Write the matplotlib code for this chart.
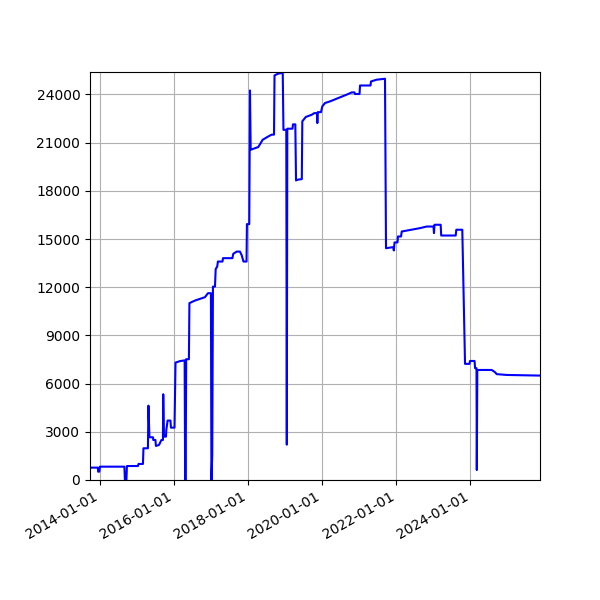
import matplotlib
matplotlib.use("Agg")
import matplotlib.pyplot as plt
import matplotlib.dates as mdates
import pandas as pd
from matplotlib.ticker import MultipleLocator

# points (date, value)
dates = [
    "2013-09-25", "2013-12-12", "2013-12-14", "2013-12-26", "2014-01-01",
    "2014-08-30", "2014-09-04", "2014-09-19", "2014-09-24", "2015-01-11",
    "2015-01-16", "2015-03-01", "2015-03-06", "2015-04-19", "2015-04-24",
    "2015-05-04", "2015-06-08", "2015-06-11", "2015-07-02", "2015-07-07",
    "2015-08-06", "2015-08-30", "2015-09-14", "2015-09-17", "2015-09-24",
    "2015-10-14", "2015-10-17", "2015-10-30", "2015-11-27", "2015-12-02",
    "2016-01-06", "2016-01-16", "2016-02-29", "2016-04-15", "2016-04-20",
    "2016-04-25", "2016-04-30", "2016-05-27", "2016-06-01", "2016-07-25",
    "2016-11-01", "2016-12-01", "2016-12-30", "2017-01-04", "2017-01-12",
    "2017-01-19", "2017-02-08", "2017-02-15", "2017-03-02", "2017-03-09",
    "2017-04-23", "2017-04-28", "2017-07-30", "2017-08-07", "2017-09-10",
    "2017-10-12", "2017-10-29", "2017-11-16", "2017-12-16", "2017-12-20",
    "2018-01-12", "2018-01-19", "2018-01-26", "2018-04-11", "2018-05-24",
    "2018-07-19", "2018-08-21", "2018-09-13", "2018-09-18", "2018-10-25",
    "2018-12-08", "2018-12-15", "2019-01-12", "2019-01-17", "2019-01-22",
    "2019-03-14", "2019-03-19", "2019-04-11", "2019-04-18", "2019-05-07",
    "2019-06-14", "2019-06-19", "2019-07-23", "2019-09-20", "2019-10-15",
    "2019-11-11", "2019-11-14", "2019-11-18", "2019-12-20", "2020-01-02",
    "2020-01-29", "2020-03-18", "2020-06-08", "2020-08-29", "2020-10-18",
    "2020-11-14", "2020-11-19", "2021-01-03", "2021-01-08", "2021-04-21",
    "2021-04-26", "2021-06-20", "2021-09-11", "2021-09-21", "2021-12-02",
    "2021-12-07", "2021-12-14", "2022-01-12", "2022-01-17", "2022-02-16",
    "2022-02-23", "2022-08-22", "2022-10-27", "2023-01-02", "2023-01-07",
    "2023-01-12", "2023-03-14", "2023-03-19", "2023-08-09", "2023-08-15",
    "2023-10-13", "2023-11-09", "2023-12-23", "2023-12-28", "2024-02-11",
    "2024-02-16", "2024-03-01", "2024-03-04", "2024-03-09", "2024-07-29",
    "2024-08-31", "2024-09-16", "2024-12-24", "2025-11-17",
]
values = [
    770, 770, 520, 520, 830,
    830, 0, 0, 870, 870,
    1000, 1000, 1975, 1975, 4630,
    2660, 2660, 2490, 2490, 2120,
    2180, 2490, 2490, 5340, 2700,
    2700, 3100, 3700, 3700, 3260,
    3260, 7310, 7400, 7450, 0,
    0, 7520, 7520, 11010, 11170,
    11380, 11630, 11630, 0, 1550,
    12040, 12040, 13130, 13290, 13600,
    13600, 13810, 13810, 14080, 14220,
    14220, 14000, 13600, 13600, 15930,
    15930, 24250, 20560, 20730, 21180,
    21390, 21500, 21500, 25190, 25300,
    25340, 21800, 21800, 2200, 21870,
    21870, 22140, 22140, 18650, 18700,
    18730, 22330, 22600, 22740, 22840,
    22840, 22220, 22900, 22900, 23260,
    23470, 23570, 23780, 23990, 24130,
    24130, 24030, 24030, 24560, 24560,
    24810, 24920, 24980, 14430, 14500,
    14290, 14790, 14790, 15160, 15160,
    15470, 15680, 15780, 15780, 15370,
    15890, 15890, 15220, 15220, 15580,
    15580, 7230, 7230, 7410, 7410,
    6960, 6960, 620, 6850, 6850,
    6710, 6590, 6540, 6500,
]

x = pd.to_datetime(dates)

fig, ax = plt.subplots(figsize=(6, 6), dpi=100)
ax.plot(x, values, color="blue", linewidth=1.5)

ax.set_xlim(x[0], x[-1])
ax.set_ylim(0, 25400)
ax.yaxis.set_major_locator(MultipleLocator(3000))
ax.xaxis.set_major_locator(mdates.YearLocator(2))
ax.xaxis.set_major_formatter(mdates.DateFormatter("%Y-%m-%d"))
ax.grid(True)

fig.autofmt_xdate()
fig.subplots_adjust(left=0.15)
fig.savefig("out.png")
